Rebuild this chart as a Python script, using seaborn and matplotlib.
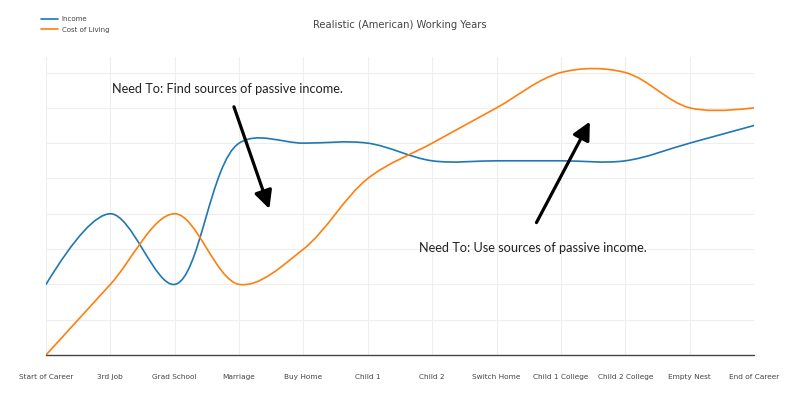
import numpy as np
import matplotlib
matplotlib.use('Agg')
import matplotlib.pyplot as plt
from matplotlib.path import Path
from matplotlib.patches import PathPatch
from matplotlib.lines import Line2D
import seaborn as sns

# Data
stages = ['Start of Career', '3rd Job', 'Grad School', 'Marriage', 'Buy Home', 'Child 1',
          'Child 2', 'Switch Home', 'Child 1 College', 'Child 2 College', 'Empty Nest',
          'End of Career']
income = [2, 4, 2, 6, 6, 6, 5.5, 5.5, 5.5, 5.5, 6, 6.5]
cost_of_living = [0, 2, 4, 2, 3, 5, 6, 7, 8, 8, 7, 7]

BLUE = '#1f77b4'
ORANGE = '#ff7f0e'

sns.set_theme(style='whitegrid')
plt.rcParams['font.family'] = ['DejaVu Sans']

fig = plt.figure(figsize=(8, 4.17), dpi=100)
ax = fig.add_axes([46 / 800, 62 / 417, 708 / 800, 298 / 417])
ax.set_xlim(0, len(stages) - 1)
ax.set_ylim(0, 8.44)

# pixel scale of the axes, so the spline is smoothed in screen space
sx = 708 / (len(stages) - 1)
sy = 298 / 8.44


def spline_path(xs, ys, smoothness=1.0):
    # Catmull-Rom style smoothing, turned into bezier control points
    pts = np.column_stack([np.asarray(xs) * sx, np.asarray(ys) * sy])
    tangents = []
    for i in range(1, len(pts) - 1):
        p0, p1, p2 = pts[i - 1], pts[i], pts[i + 1]
        d1 = p0 - p1
        d2 = p2 - p1
        d1a = np.hypot(*d1) ** 0.5
        d2a = np.hypot(*d2) ** 0.5
        num = (d2a * d2a * d1 - d1a * d1a * d2) * smoothness
        den1 = 3 * d2a * (d1a + d2a)
        den2 = 3 * d1a * (d1a + d2a)
        tangents.append((p1 + num / den1, p1 - num / den2))
    verts = [pts[0], tangents[0][0], pts[1]]
    codes = [Path.MOVETO, Path.CURVE3, Path.CURVE3]
    for i in range(2, len(pts) - 1):
        verts += [tangents[i - 2][1], tangents[i - 1][0], pts[i]]
        codes += [Path.CURVE4] * 3
    verts += [tangents[-1][1], pts[-1]]
    codes += [Path.CURVE3] * 2
    verts = np.array(verts) / [sx, sy]
    return Path(verts, codes)


xs = np.arange(len(stages))
for series, color in [(income, BLUE), (cost_of_living, ORANGE)]:
    ax.add_patch(PathPatch(spline_path(xs, series), facecolor='none', edgecolor=color,
                           lw=1.2, capstyle='round', joinstyle='round', zorder=3))

# grid styling
ax.set_xticks(xs)
ax.set_xticklabels(stages, fontsize=5.3, color='#444444')
ax.set_yticks(np.arange(1, 9))
ax.set_yticklabels([])
ax.tick_params(axis='x', length=0, pad=14)
ax.tick_params(axis='y', length=0)
ax.grid(True, color='#eeeeee', lw=0.8)
for s in ax.spines.values():
    s.set_visible(False)
ax.axhline(0, color='#444444', lw=1.0, zorder=4, clip_on=False)

fig.text(0.5, 1 - 25 / 417, 'Realistic (American) Working Years', ha='center', va='center',
         fontsize=7.2, color='#444444')

handles = [Line2D([], [], color=BLUE, lw=1.2), Line2D([], [], color=ORANGE, lw=1.2)]
fig.legend(handles, ['Income', 'Cost of Living'], loc='upper left',
           bbox_to_anchor=(41 / 800, 1 - 16 / 417), frameon=False, fontsize=5,
           labelcolor='#444444', handlelength=2.4, handletextpad=0.6, labelspacing=0.65,
           borderaxespad=0, borderpad=0)

ax.text(2.82, 7.54, 'Need To: Find sources of passive income.', ha='center', va='center',
        fontsize=9.2, color='#222222', family=['Lato', 'DejaVu Sans'])
ax.text(7.56, 3.03, 'Need To: Use sources of passive income.', ha='center', va='center',
        fontsize=9.2, color='#222222', family=['Lato', 'DejaVu Sans'])

arrow = dict(arrowstyle='-|>,head_length=0.9,head_width=0.45', color='black', lw=2.3,
             shrinkA=0, shrinkB=0)
ax.annotate('', xy=(3.47, 4.14), xytext=(2.92, 7.03), arrowprops=arrow)
ax.annotate('', xy=(8.45, 6.61), xytext=(7.62, 3.75), arrowprops=arrow)

fig.savefig('out.png', dpi=100, facecolor='white')
